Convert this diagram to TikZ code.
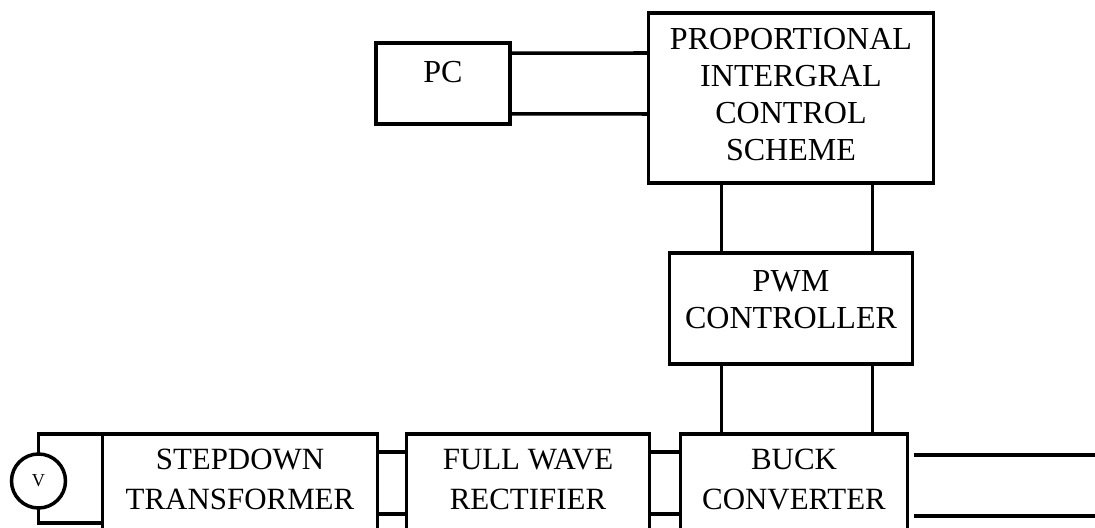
\documentclass[tikz,border=0pt]{standalone}
\usepackage{fontspec}
\setmainfont{Liberation Serif}
\usetikzlibrary{positioning}

\begin{document}
\begin{tikzpicture}[
blk/.style={rectangle, draw, line width=2.5pt, outer sep=0pt},
lowblk/.style={blk, minimum width=#1, minimum height=3cm},
lbl/.style={align=center, inner sep=0pt, anchor=north,
font=\fontsize{22.8}{26.3}\selectfont},
lowlbl/.style={lbl, font=\fontsize{22}{28.4}\selectfont},
wire/.style={line width=2.5pt},
src/.style={circle, draw, line width=2.5pt, minimum size=1.35cm, inner sep=0pt,
outer sep=0pt, font=\fontsize{13}{15}\selectfont}
]
\useasboundingbox (0,0) rectangle (27.375,-13.2);
\clip (0,0) rectangle (27.375,-13.2);

% control side
\node[blk, minimum width=7.125cm, minimum height=4.25cm] (pi) at (19.775,-2.45) {};
\node[blk, minimum width=3.35cm, minimum height=2.025cm] (pc) at (11.075,-2.0875) {};
\node[blk, minimum width=6.075cm, minimum height=2.775cm, below=1.75cm of pi] (pwm) {};

% power stage
\node[lowblk=5.675cm, below=1.75cm of pwm, xshift=0.075cm] (buck) {};
\node[lowblk=6.075cm, left=0.775cm of buck] (rect) {};
\node[lowblk=6.875cm, left=0.725cm of rect] (stp) {};
\node[src] (v) at (0.9625,-12.025) {V};

\node[lbl, below=0.45cm of pc.north] (pctxt) {PC};
\node[lbl, below=0.38cm of pi.north] (pitxt) {PROPORTIONAL\\INTERGRAL\\CONTROL\\SCHEME};
\node[lbl, below=0.42cm of pwm.north] (pwmtxt) {PWM\\CONTROLLER};
\node[lowlbl, below=0.38cm of stp.north] (stptxt) {STEPDOWN\\TRANSFORMER};
\node[lowlbl, below=0.38cm of rect.north] (recttxt) {FULL WAVE\\RECTIFIER};
\node[lowlbl, below=0.38cm of buck.north] (bucktxt) {BUCK\\CONVERTER};

\coordinate (load1) at (27.375,-11.375);
\coordinate (load2) at (27.375,-12.9);

% links
\draw[wire] ([yshift=0.76cm]pc.east) -- ([yshift=1.125cm]pi.west);
\draw[wire] ([yshift=-0.76cm]pc.east) -- ([yshift=-0.4cm]pi.west);
\foreach \dx in {-1.74,2.04} {
  \draw[wire] ([xshift=\dx cm]pi.south) -- ([xshift=\dx cm]pwm.north);
  \draw[wire] ([xshift=\dx cm]pwm.south) -- ([xshift=\dx cm-0.075cm]buck.north);
}
\foreach \dy in {0.45,2.0} {
  \draw[wire] ([yshift=-\dy cm]stp.north east) -- ([yshift=-\dy cm]rect.north west);
  \draw[wire] ([yshift=-\dy cm]rect.north east) -- ([yshift=-\dy cm]buck.north west);
}
\draw[wire] (v.north) |- (stp.north west);
\draw[wire] (v.south) |- ([yshift=-2.225cm]stp.north west);
\draw[wire, shorten <=0.15cm] (buck.east |- load1) -- (load1);
\draw[wire, shorten <=0.15cm] (buck.east |- load2) -- (load2);
\end{tikzpicture}
\end{document}
